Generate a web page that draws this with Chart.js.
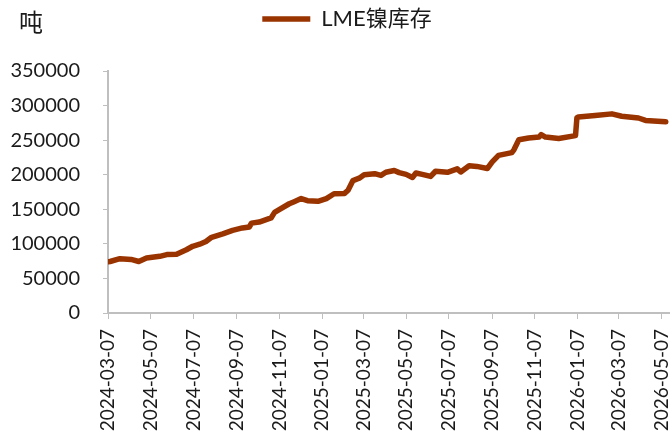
<!DOCTYPE html>
<html lang="zh">
<head>
    <meta charset="UTF-8">
    <title>LME镍库存</title>
    <script src="https://cdn.jsdelivr.net/npm/chart.js"></script>
    <style>
        body {
            margin: 0;
            padding: 0;
            background: #ffffff;
        }
        #chart {
            display: block;
        }
    </style>
</head>
<body>
    <canvas id="chart" width="670" height="441"></canvas>

    <script>
        // LME nickel stocks (tonnes)
        const dates = [
            '2024-03-07', '2024-03-10', '2024-03-24', '2024-04-09', '2024-04-20', '2024-05-01',
            '2024-05-20', '2024-05-30', '2024-06-13', '2024-06-27', '2024-07-06', '2024-07-16',
            '2024-07-25', '2024-08-02', '2024-08-18', '2024-09-01', '2024-09-15', '2024-09-25',
            '2024-09-28', '2024-10-09', '2024-10-26', '2024-10-31', '2024-11-09', '2024-11-21',
            '2024-11-28', '2024-12-08', '2024-12-17', '2025-01-01', '2025-01-13', '2025-01-24',
            '2025-02-08', '2025-02-13', '2025-02-20', '2025-03-01', '2025-03-08', '2025-03-23',
            '2025-04-01', '2025-04-08', '2025-04-20', '2025-04-27', '2025-05-07', '2025-05-16',
            '2025-05-21', '2025-05-30', '2025-06-11', '2025-06-18', '2025-07-05', '2025-07-19',
            '2025-07-24', '2025-08-05', '2025-08-16', '2025-08-31', '2025-09-07', '2025-09-16',
            '2025-10-05', '2025-10-08', '2025-10-15', '2025-10-29', '2025-11-13', '2025-11-16',
            '2025-11-22', '2025-12-11', '2026-01-04', '2026-01-06', '2026-01-08', '2026-02-01',
            '2026-02-25', '2026-03-11', '2026-04-04', '2026-04-14', '2026-05-13'
        ];
        const stocks = [
            74000, 74500, 78500, 77500, 74500, 79500,
            82000, 84500, 85000, 91500, 96500, 99500,
            103500, 109500, 114500, 119500, 123000, 124500,
            130000, 131500, 137500, 145500, 151000, 158000,
            161000, 165500, 162500, 161500, 165500, 172500,
            173000, 177500, 191500, 195000, 200000, 201500,
            199000, 203500, 206000, 203000, 200500, 196000,
            202500, 200500, 197500, 205000, 203500, 208500,
            204000, 213000, 212000, 209000, 218500, 228000,
            232000, 236000, 250500, 253000, 254500, 258000,
            254500, 252500, 256500, 282500, 283500, 285500,
            288000, 284500, 282000, 278500, 276500
        ];
        const tickDates = [
            '2024-03-07', '2024-05-07', '2024-07-07', '2024-09-07', '2024-11-07',
            '2025-01-07', '2025-03-07', '2025-05-07', '2025-07-07', '2025-09-07',
            '2025-11-07', '2026-01-07', '2026-03-07', '2026-05-07'
        ];
        const seriesName = 'LME镍库存';
        const unitLabel = '吨';

        const lineColor = '#993300';
        const axisColor = '#bfbfbf';
        const latin = "Lato, 'Noto Sans CJK SC', sans-serif";

        // days since the first date, so the x axis behaves like a date axis
        const start = Date.parse(dates[0] + 'T00:00:00Z');
        function dayOf(s) {
            return Math.round((Date.parse(s + 'T00:00:00Z') - start) / 86400000);
        }
        const points = dates.map((d, i) => ({ x: dayOf(d), y: stocks[i] }));
        const tickDays = tickDates.map(dayOf);

        // unit label in the top-left corner
        const unitPlugin = {
            id: 'unitLabel',
            afterDraw(chart) {
                const ctx = chart.ctx;
                ctx.save();
                ctx.fillStyle = '#1a1a1a';
                ctx.font = "24px 'Noto Sans CJK SC'";
                ctx.textBaseline = 'top';
                ctx.fillText(unitLabel, 19, 10);
                ctx.restore();
            }
        };

        // leave room under the legend and nudge it a little to the right
        const legendSpace = {
            id: 'legendSpace',
            beforeInit(chart) {
                const legend = chart.legend;
                const fit = legend.fit;
                const draw = legend.draw;
                legend.fit = function () {
                    fit.call(this);
                    this.height = 71;
                };
                legend.draw = function () {
                    this.ctx.save();
                    this.ctx.translate(12, 0);
                    draw.apply(this, arguments);
                    this.ctx.restore();
                };
            }
        };

        const chart = new Chart(document.getElementById('chart').getContext('2d'), {
            type: 'line',
            data: {
                datasets: [{
                    label: seriesName,
                    data: points,
                    borderColor: lineColor,
                    backgroundColor: lineColor,
                    borderWidth: 5.5,
                    borderCapStyle: 'round',
                    borderJoinStyle: 'round',
                    pointRadius: 0,
                    tension: 0,
                    fill: false
                }]
            },
            options: {
                responsive: false,
                animation: false,
                layout: {
                    padding: { top: 0, left: 0, right: 0, bottom: 0 }
                },
                plugins: {
                    legend: {
                        position: 'top',
                        labels: {
                            color: '#1a1a1a',
                            font: { family: latin, size: 22 },
                            usePointStyle: true,
                            pointStyle: 'line',
                            pointStyleWidth: 48,
                            boxHeight: 20,
                            padding: 8
                        }
                    },
                    tooltip: { enabled: false }
                },
                scales: {
                    x: {
                        type: 'linear',
                        min: 0,
                        max: 803,
                        afterBuildTicks(axis) {
                            axis.ticks = tickDays.map(v => ({ value: v }));
                        },
                        afterFit(scale) {
                            scale.height = 128;
                            scale.paddingLeft = 0;
                            scale.paddingRight = 0;
                        },
                        ticks: {
                            autoSkip: false,
                            maxRotation: 90,
                            minRotation: 90,
                            padding: 10,
                            color: '#1a1a1a',
                            font: { family: latin, size: 19 },
                            callback(value) {
                                const i = tickDays.indexOf(value);
                                return i >= 0 ? tickDates[i] : '';
                            }
                        },
                        grid: {
                            drawOnChartArea: false,
                            drawTicks: true,
                            tickLength: 6,
                            color: axisColor
                        },
                        border: { display: true, color: axisColor, width: 2 }
                    },
                    y: {
                        min: 0,
                        max: 350000,
                        afterFit(scale) {
                            scale.width = 108;
                            scale.paddingTop = 0;
                        },
                        ticks: {
                            stepSize: 50000,
                            padding: 23,
                            color: '#1a1a1a',
                            font: { family: latin, size: 20 },
                            callback(value) {
                                return String(value);
                            }
                        },
                        grid: {
                            drawOnChartArea: false,
                            drawTicks: true,
                            tickLength: 5,
                            color: axisColor
                        },
                        border: { display: true, color: axisColor, width: 2 }
                    }
                }
            },
            plugins: [unitPlugin, legendSpace]
        });
    </script>
</body>
</html>
